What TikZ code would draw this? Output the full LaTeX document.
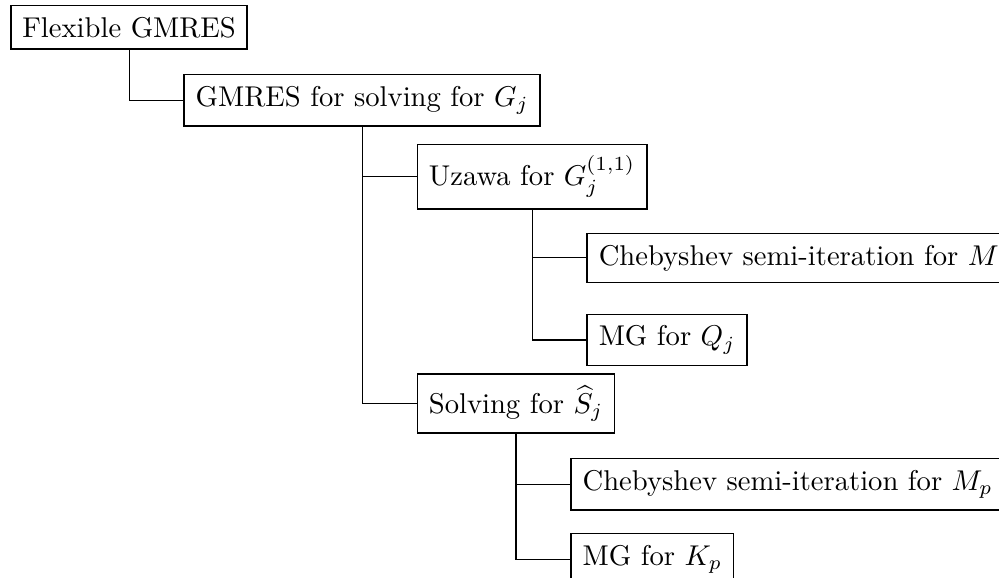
\documentclass[tikz,border=0pt]{standalone}
\usepackage{amsmath}
\usetikzlibrary{
  calc % For coordinate calculations
}

\begin{document}
\begin{tikzpicture}[
      box/.style={draw, semithick, inner sep=4pt}, % Style for solver boxes
      link/.style={thin}, % Style for tree lines
    ]

    % Rahmen
    \useasboundingbox (0,0) rectangle (349.3pt,-202.1pt);
    \clip (0,0) rectangle (349.3pt,-202.1pt);

    % Größen
    \def\dx{19pt}
    \def\dy{-17.5pt}

    % Knoten
    \node[box, anchor=west] (flex) at (3.5pt,-9.6pt) {Flexible GMRES};
    \node[box, anchor=west] (gmres) at ($(flex.south)+(\dx,\dy)$) {GMRES for solving for $G_j$};
    \node[box, anchor=west] (uzawa) at ($(gmres.south)+(\dx,\dy)$) {Uzawa for $G_j^{(1,1)}$};
    \node[box, anchor=west] (solving) at ($(uzawa.west)+(0,-79.4pt)$) {Solving for $\widehat{S}_j$};
    \node[box, anchor=west] (chebm) at ($(uzawa.south)+(\dx,-16.8pt)$) {Chebyshev semi-iteration for $M$};
    \node[box, anchor=west] (mgq) at ($(chebm.west)+(0,-28.7pt)$) {MG for $Q_j$};
    \node[box, anchor=west] (chebmp) at ($(solving.south)+(\dx,\dy)$) {Chebyshev semi-iteration for $M_p$};
    \node[box, anchor=west] (mgk) at ($(chebmp.west)+(0,-26.2pt)$) {MG for $K_p$};

    % Verbindungen
    \foreach \i/\j in {flex/gmres, gmres/uzawa, gmres/solving, uzawa/chebm, uzawa/mgq, solving/chebmp, solving/mgk}
    \draw[link] (\i.south) |- (\j.west);

  \end{tikzpicture}
\end{document}
